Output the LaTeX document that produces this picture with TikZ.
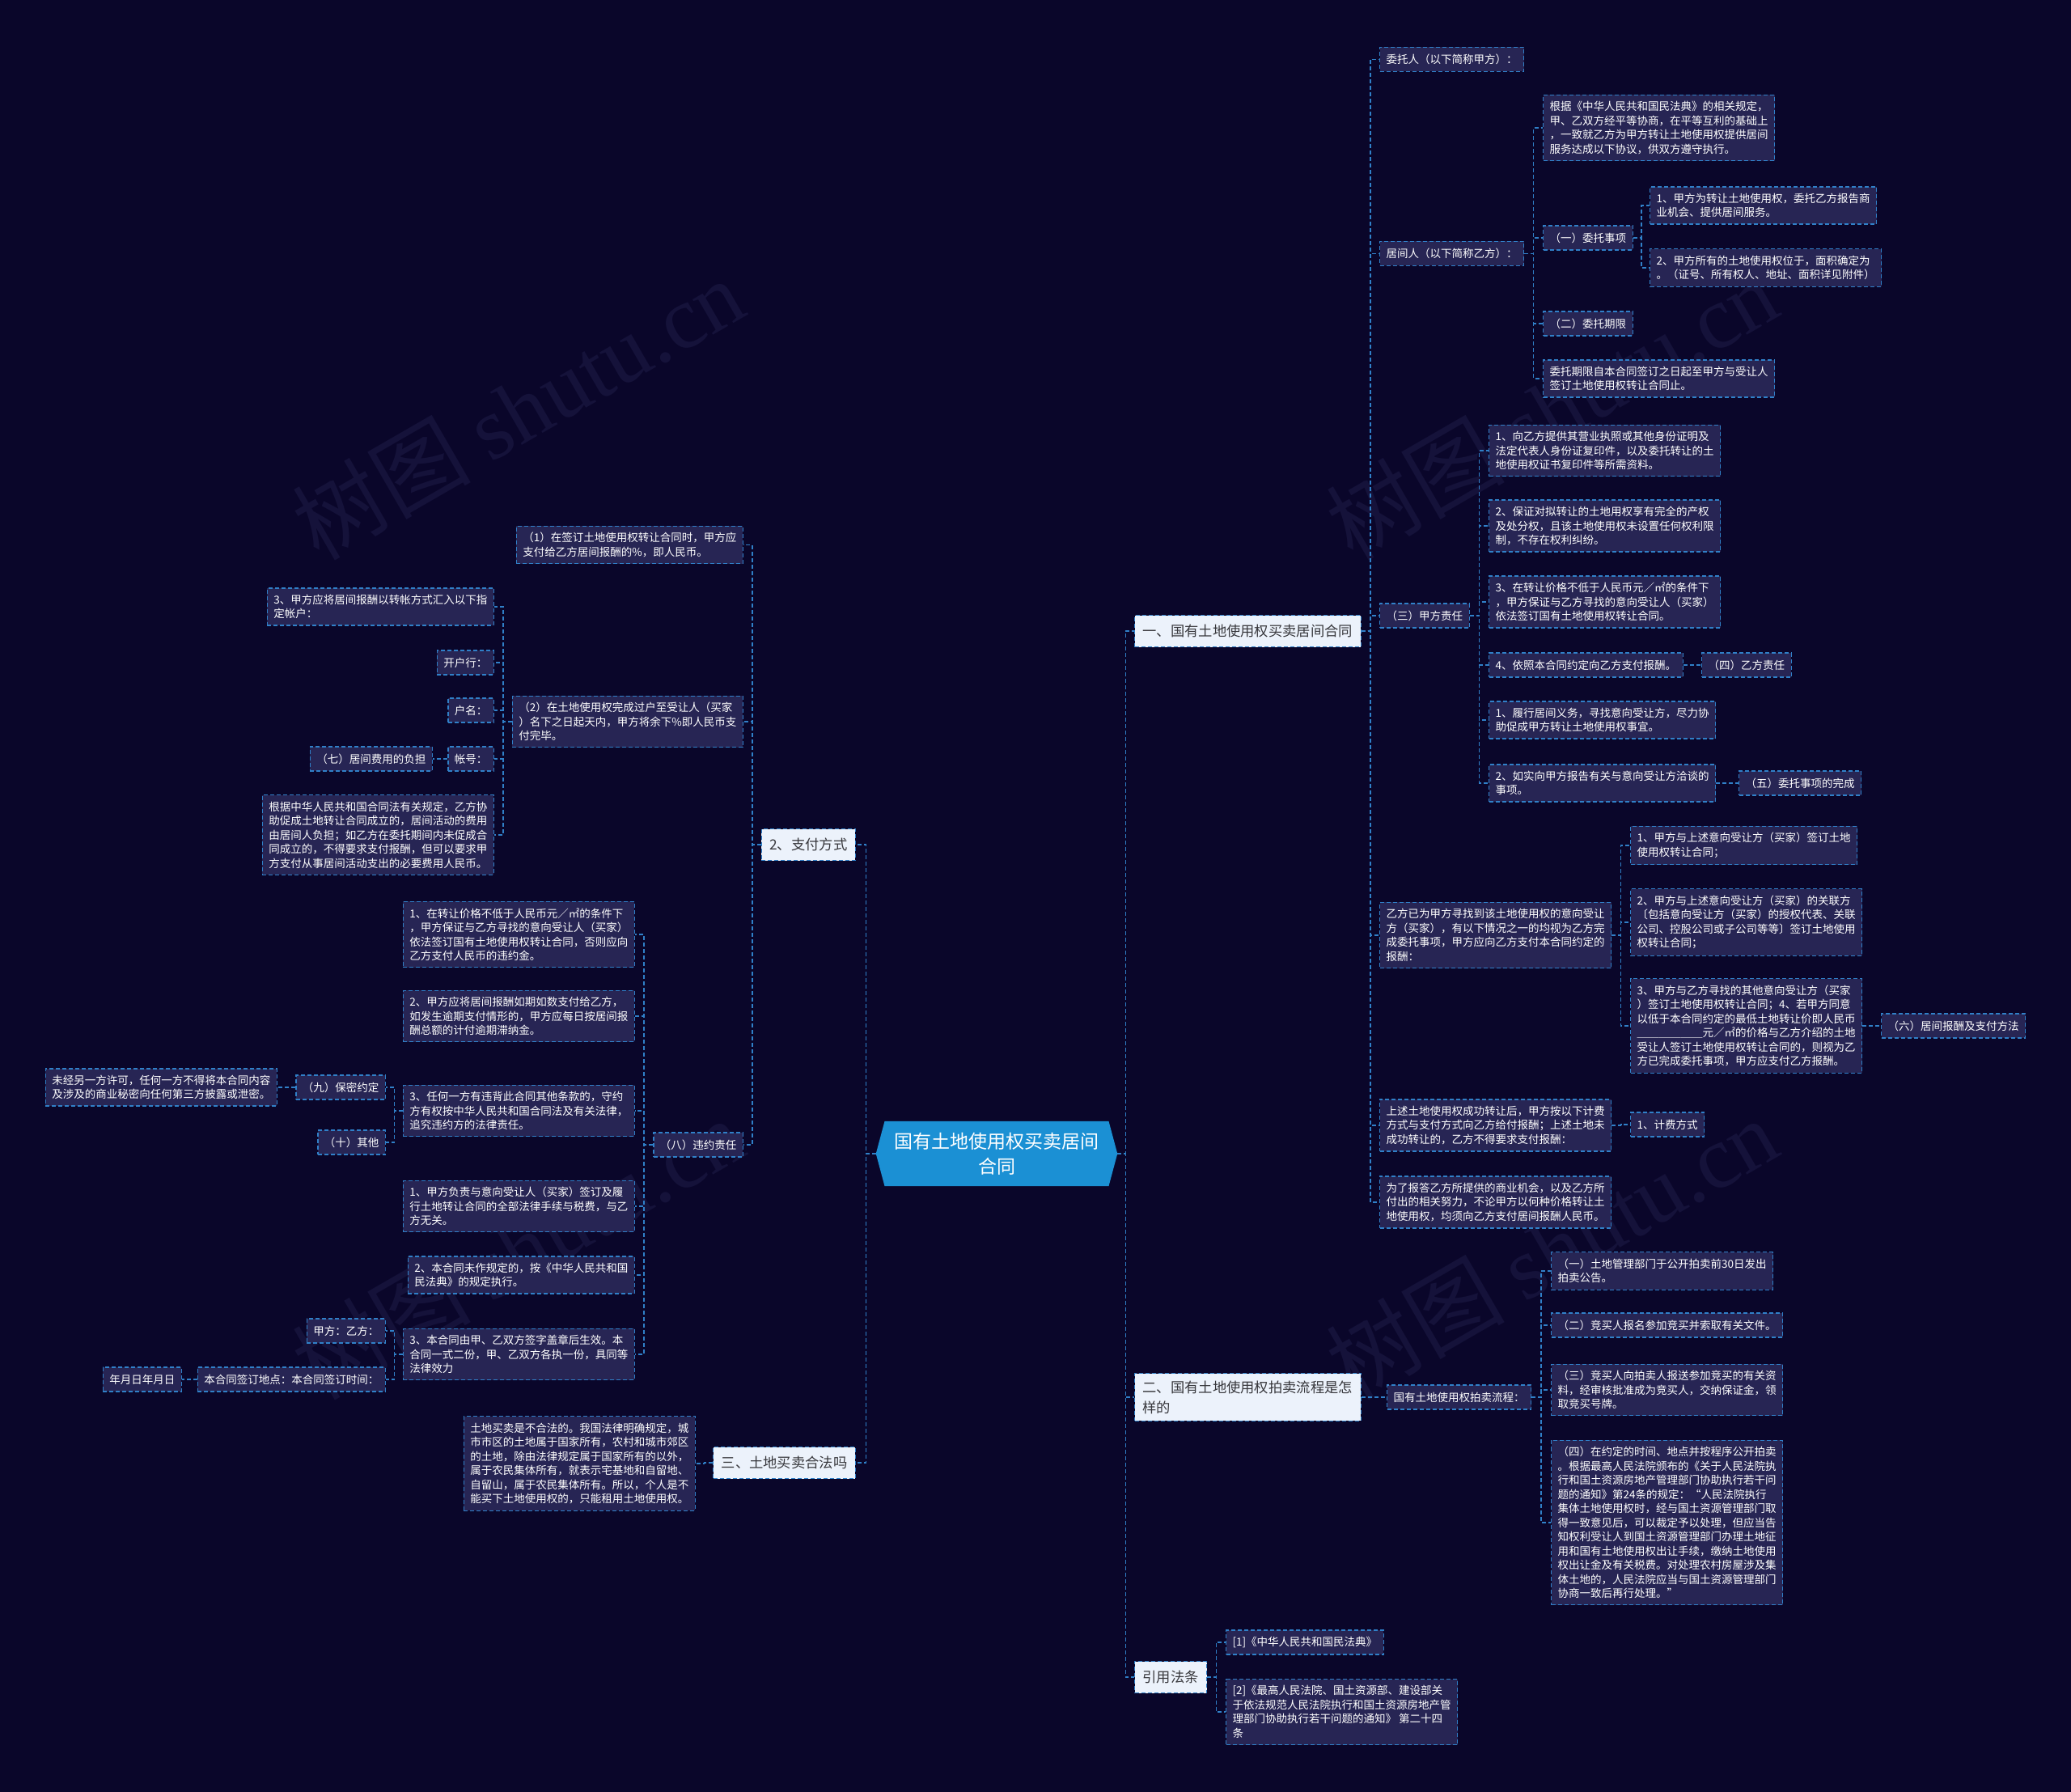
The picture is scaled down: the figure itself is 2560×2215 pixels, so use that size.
\documentclass[tikz,border=0pt]{standalone}
\usepackage{fontspec}
\setmainfont{Noto Sans CJK SC}
\newfontfamily\wmfont{Liberation Serif}
\usetikzlibrary{calc,shapes.symbols}
\definecolor{bgc}{RGB}{10,6,42}
\definecolor{nodefill}{RGB}{39,37,84}
\definecolor{linkblue}{RGB}{48,128,200}
\definecolor{lvfill}{RGB}{236,242,251}
\definecolor{lvtext}{RGB}{55,55,60}
\definecolor{rootblue}{RGB}{27,144,212}
\definecolor{wmc}{RGB}{21,18,58}
\tikzset{
  conn/.style={draw=linkblue, line width=1.5pt, dash pattern=on 5pt off 3pt},
  sm/.style={draw=linkblue, line width=1.2pt, dash pattern=on 5pt off 3pt, fill=nodefill, text=white,
    font=\fontsize{13.5}{17.5}\selectfont, align=left, inner xsep=8pt, inner ysep=8pt, minimum height=30pt},
  lv/.style={draw=linkblue, line width=1.1pt, dash pattern=on 5pt off 3pt, fill=lvfill, text=lvtext,
    font=\fontsize{17.3}{25}\selectfont, align=left, inner xsep=10pt, inner ysep=9pt, minimum height=39pt},
  rootnode/.style={shape=signal, signal to=west and east, signal pointer angle=150, fill=rootblue, text=white,
    font=\fontsize{23}{31}\selectfont, align=center, inner xsep=12pt, inner ysep=14pt},
  wm/.style={text=wmc, font=\fontsize{110}{110}\selectfont, rotate=30},
  R/.style={anchor=west}, L/.style={anchor=east}
}
\newcommand\linkR[2]{\draw[conn] (#1.east) -- ($(#1.east)!0.5!(#1.east -| #2.west)$) |- (#2.west);}
\newcommand\linkL[2]{\draw[conn] (#1.west) -- ($(#1.west)!0.5!(#1.west -| #2.east)$) |- (#2.east);}
\begin{document}
\begin{tikzpicture}[x=1pt,y=-1pt]
\fill[bgc] (0,0) rectangle (2560,2215);
\useasboundingbox (0,0) rectangle (2560,2215);
% watermarks
\node[wm] (wm1) at (640,505) {树图 {\wmfont shutu.cn}};
\node[wm] (wm2) at (1918,505) {树图 {\wmfont shutu.cn}};
\node[wm] (wm3) at (640,1543) {树图 {\wmfont shutu.cn}};
\node[wm] (wm4) at (1918,1543) {树图 {\wmfont shutu.cn}};
% root
\node[rootnode] (root) at (1232,1426) {国有土地使用权买卖居间\\合同};
% level 1
\node[lv,R] (n1) at (1402,780) {一、国有土地使用权买卖居间合同};
\node[lv,R] (n2) at (1402,1727) {二、国有土地使用权拍卖流程是怎\\样的};
\node[lv,R] (n3) at (1402,2073) {引用法条};
\node[lv,L] (n4) at (1058,1044) {2、支付方式};
\node[lv,L] (n5) at (1058,1808) {三、土地买卖合法吗};
% branch 1
\node[sm,R] (a) at (1705,73.5) {委托人（以下简称甲方）：};
\node[sm,R] (b) at (1705,313.5) {居间人（以下简称乙方）：};
\node[sm,R] (c) at (1705,761) {（三）甲方责任};
\node[sm,R] (d) at (1705,1156) {乙方已为甲方寻找到该土地使用权的意向受让\\方（买家），有以下情况之一的均视为乙方完\\成委托事项，甲方应向乙方支付本合同约定的\\报酬：};
\node[sm,R] (e) at (1705,1391) {上述土地使用权成功转让后，甲方按以下计费\\方式与支付方式向乙方给付报酬；上述土地未\\成功转让的，乙方不得要求支付报酬：};
\node[sm,R] (f) at (1705,1486) {为了报答乙方所提供的商业机会，以及乙方所\\付出的相关努力，不论甲方以何种价格转让土\\地使用权，均须向乙方支付居间报酬人民币。};
\node[sm,R] (b1) at (1907,158) {根据《中华人民共和国民法典》的相关规定，\\甲、乙双方经平等协商，在平等互利的基础上\\，一致就乙方为甲方转让土地使用权提供居间\\服务达成以下协议，供双方遵守执行。};
\node[sm,R] (b2) at (1907,294) {（一）委托事项};
\node[sm,R] (b3) at (1907,400) {（二）委托期限};
\node[sm,R] (b4) at (1907,468) {委托期限自本合同签订之日起至甲方与受让人\\签订土地使用权转让合同止。};
\node[sm,R] (b2a) at (2039,254) {1、甲方为转让土地使用权，委托乙方报告商\\业机会、提供居间服务。};
\node[sm,R] (b2b) at (2039,331) {2、甲方所有的土地使用权位于，面积确定为\\。（证号、所有权人、地址、面积详见附件）};
\node[sm,R] (c1) at (1840,557) {1、向乙方提供其营业执照或其他身份证明及\\法定代表人身份证复印件，以及委托转让的土\\地使用权证书复印件等所需资料。};
\node[sm,R] (c2) at (1840,650) {2、保证对拟转让的土地用权享有完全的产权\\及处分权，且该土地使用权未设置任何权利限\\制，不存在权利纠纷。};
\node[sm,R] (c3) at (1840,744) {3、在转让价格不低于人民币元／㎡的条件下\\，甲方保证与乙方寻找的意向受让人（买家）\\依法签订国有土地使用权转让合同。};
\node[sm,R] (c4) at (1840,822) {4、依照本合同约定向乙方支付报酬。};
\node[sm,R] (c5) at (1840,890) {1、履行居间义务，寻找意向受让方，尽力协\\助促成甲方转让土地使用权事宜。};
\node[sm,R] (c6) at (1840,968) {2、如实向甲方报告有关与意向受让方洽谈的\\事项。};
\node[sm,R] (c4a) at (2103,822) {（四）乙方责任};
\node[sm,R] (c6a) at (2149,968) {（五）委托事项的完成};
\node[sm,R] (d1) at (2015,1045) {1、甲方与上述意向受让方（买家）签订土地\\使用权转让合同；};
\node[sm,R] (d2) at (2015,1140) {2、甲方与上述意向受让方（买家）的关联方\\〔包括意向受让方（买家）的授权代表、关联\\公司、控股公司或子公司等等〕签订土地使用\\权转让合同；};
\node[sm,R] (d3) at (2015,1268) {3、甲方与乙方寻找的其他意向受让方（买家\\）签订土地使用权转让合同；4、若甲方同意\\以低于本合同约定的最低土地转让价即人民币\\＿＿＿＿＿＿元／㎡的价格与乙方介绍的土地\\受让人签订土地使用权转让合同的，则视为乙\\方已完成委托事项，甲方应支付乙方报酬。};
\node[sm,R] (d3a) at (2325,1268) {（六）居间报酬及支付方法};
\node[sm,R] (e1) at (2015,1390) {1、计费方式};
% branch 2
\node[sm,R] (g) at (1714,1727) {国有土地使用权拍卖流程：};
\node[sm,R] (p1) at (1917,1571) {（一）土地管理部门于公开拍卖前30日发出\\拍卖公告。};
\node[sm,R] (p2) at (1917,1638) {（二）竞买人报名参加竞买并索取有关文件。};
\node[sm,R] (p3) at (1917,1718) {（三）竞买人向拍卖人报送参加竞买的有关资\\料，经审核批准成为竞买人，交纳保证金，领\\取竞买号牌。};
\node[sm,R] (p4) at (1917,1882) {（四）在约定的时间、地点并按程序公开拍卖\\。根据最高人民法院颁布的《关于人民法院执\\行和国土资源房地产管理部门协助执行若干问\\题的通知》第24条的规定：“人民法院执行\\集体土地使用权时，经与国土资源管理部门取\\得一致意见后，可以裁定予以处理，但应当告\\知权利受让人到国土资源管理部门办理土地征\\用和国有土地使用权出让手续，缴纳土地使用\\权出让金及有关税费。对处理农村房屋涉及集\\体土地的，人民法院应当与国土资源管理部门\\协商一致后再行处理。”};
% branch 3
\node[sm,R] (r1) at (1515,2030) {[1]《中华人民共和国民法典》};
\node[sm,R] (r2) at (1515,2116) {[2]《最高人民法院、国土资源部、建设部关\\于依法规范人民法院执行和国土资源房地产管\\理部门协助执行若干问题的通知》 第二十四\\条};
% left: payment
\node[sm,L] (l1) at (919,673.5) {（1）在签订土地使用权转让合同时，甲方应\\支付给乙方居间报酬的\%，即人民币。};
\node[sm,L] (l2) at (919,892) {（2）在土地使用权完成过户至受让人（买家\\）名下之日起天内，甲方将余下\%即人民币支\\付完毕。};
\node[sm,L] (l3) at (919,1415) {（八）违约责任};
\node[sm,L] (l2a) at (611,750) {3、甲方应将居间报酬以转帐方式汇入以下指\\定帐户：};
\node[sm,L] (l2b) at (611,819) {开户行：};
\node[sm,L] (l2c) at (611,878) {户名：};
\node[sm,L] (l2d) at (611,938) {帐号：};
\node[sm,L] (l2d1) at (535,938) {（七）居间费用的负担};
\node[sm,L] (l2e) at (611,1032) {根据中华人民共和国合同法有关规定，乙方协\\助促成土地转让合同成立的，居间活动的费用\\由居间人负担；如乙方在委托期间内未促成合\\同成立的，不得要求支付报酬，但可以要求甲\\方支付从事居间活动支出的必要费用人民币。};
\node[sm,L] (l3a) at (785,1155) {1、在转让价格不低于人民币元／㎡的条件下\\，甲方保证与乙方寻找的意向受让人（买家）\\依法签订国有土地使用权转让合同，否则应向\\乙方支付人民币的违约金。};
\node[sm,L] (l3b) at (785,1256) {2、甲方应将居间报酬如期如数支付给乙方，\\如发生逾期支付情形的，甲方应每日按居间报\\酬总额的计付逾期滞纳金。};
\node[sm,L] (l3c) at (785,1373) {3、任何一方有违背此合同其他条款的，守约\\方有权按中华人民共和国合同法及有关法律，\\追究违约方的法律责任。};
\node[sm,L] (l3d) at (785,1491) {1、甲方负责与意向受让人（买家）签订及履\\行土地转让合同的全部法律手续与税费，与乙\\方无关。};
\node[sm,L] (l3e) at (785,1576) {2、本合同未作规定的，按《中华人民共和国\\民法典》的规定执行。};
\node[sm,L] (l3f) at (785,1674) {3、本合同由甲、乙双方签字盖章后生效。本\\合同一式二份，甲、乙双方各执一份，具同等\\法律效力};
\node[sm,L] (l3c1) at (477,1344) {（九）保密约定};
\node[sm,L] (l3c1a) at (343,1344) {未经另一方许可，任何一方不得将本合同内容\\及涉及的商业秘密向任何第三方披露或泄密。};
\node[sm,L] (l3c2) at (477,1412) {（十）其他};
\node[sm,L] (l3f1) at (477,1645) {甲方：乙方：};
\node[sm,L] (l3f2) at (477,1705) {本合同签订地点：本合同签订时间：};
\node[sm,L] (l3f2a) at (225,1705) {年月日年月日};
\node[sm,L] (m1) at (860,1809) {土地买卖是不合法的。我国法律明确规定，城\\市市区的土地属于国家所有，农村和城市郊区\\的土地，除由法律规定属于国家所有的以外，\\属于农民集体所有，就表示宅基地和自留地、\\自留山，属于农民集体所有。所以，个人是不\\能买下土地使用权的，只能租用土地使用权。};
% connectors
\linkR{root}{n1}\linkR{root}{n2}\linkR{root}{n3}
\linkL{root}{n4}\linkL{root}{n5}
\linkR{n1}{a}\linkR{n1}{b}\linkR{n1}{c}\linkR{n1}{d}\linkR{n1}{e}\linkR{n1}{f}
\linkR{b}{b1}\linkR{b}{b2}\linkR{b}{b3}\linkR{b}{b4}
\linkR{b2}{b2a}\linkR{b2}{b2b}
\linkR{c}{c1}\linkR{c}{c2}\linkR{c}{c3}\linkR{c}{c4}\linkR{c}{c5}\linkR{c}{c6}
\linkR{c4}{c4a}\linkR{c6}{c6a}
\linkR{d}{d1}\linkR{d}{d2}\linkR{d}{d3}\linkR{d3}{d3a}
\linkR{e}{e1}
\linkR{n2}{g}
\linkR{g}{p1}\linkR{g}{p2}\linkR{g}{p3}\linkR{g}{p4}
\linkR{n3}{r1}\linkR{n3}{r2}
\linkL{n4}{l1}\linkL{n4}{l2}\linkL{n4}{l3}
\linkL{l2}{l2a}\linkL{l2}{l2b}\linkL{l2}{l2c}\linkL{l2}{l2d}\linkL{l2}{l2e}
\linkL{l2d}{l2d1}
\linkL{l3}{l3a}\linkL{l3}{l3b}\linkL{l3}{l3c}\linkL{l3}{l3d}\linkL{l3}{l3e}\linkL{l3}{l3f}
\linkL{l3c}{l3c1}\linkL{l3c}{l3c2}\linkL{l3c1}{l3c1a}
\linkL{l3f}{l3f1}\linkL{l3f}{l3f2}\linkL{l3f2}{l3f2a}
\linkL{n5}{m1}
\end{tikzpicture}
\end{document}
